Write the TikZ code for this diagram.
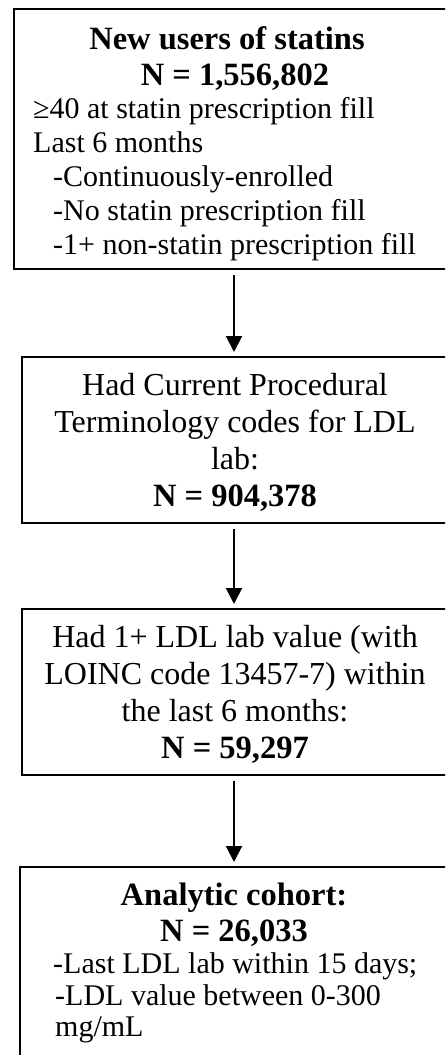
\documentclass[tikz,border=0pt]{standalone}
\usepackage{fontspec}
\setmainfont{Liberation Serif}
\usetikzlibrary{arrows.meta}
\tikzset{
  flowbox/.style={draw, line width=2pt, rectangle, inner sep=0pt, anchor=north west},
  flowarrow/.style={line width=2pt, -{Triangle[width=16pt,length=16pt]}, shorten <=5pt, shorten >=4pt},
  bigtxt/.style={inner sep=0pt, anchor=base, font=\fontsize{32}{36}\selectfont},
  bigbold/.style={inner sep=0pt, anchor=base, font=\fontsize{32.5}{36}\selectfont\bfseries},
  smalltxt/.style={inner sep=0pt, anchor=base west, font=\fontsize{30}{34}\selectfont},
}
\begin{document}
\begin{tikzpicture}[x=1pt,y=-1pt]
\useasboundingbox (0,0) rectangle (445,1055);
\clip (0,0) rectangle (445,1055);
% boxes (their right sides run past the cropped edge)
\node[flowbox, minimum width=480pt, minimum height=260pt] (box1) at (13,8) {};
\node[flowbox, minimum width=470pt, minimum height=166pt] (box2) at (21,356) {};
\node[flowbox, minimum width=470pt, minimum height=166pt] (box3) at (21,608) {};
\node[flowbox, minimum width=470pt, minimum height=260pt] (box4) at (19,866) {};
\coordinate (axis) at (234,0);
% box 1 text
\node[bigbold] (b1l1) at (227,49) {New users of statins};
\node[bigbold] (b1l2) at (235,85) {N = 1,556,802};
\node[smalltxt] (b1l3) at (33,118) {≥40 at statin prescription fill};
\node[smalltxt] (b1l4) at (33,152) {Last 6 months};
\node[smalltxt] (b1l5) at (53,186) {-Continuously-enrolled};
\node[smalltxt] (b1l6) at (53,220) {-No statin prescription fill};
\node[smalltxt] (b1l7) at (53,254) {-1+ non-statin prescription fill};
% box 2 text
\node[bigtxt] (b2l1) at (235,395) {Had Current Procedural};
\node[bigtxt] (b2l2) at (235,432) {Terminology codes for LDL};
\node[bigtxt] (b2l3) at (235,469) {lab:};
\node[bigbold] (b2l4) at (235,506) {N = 904,378};
% box 3 text
\node[bigtxt] (b3l1) at (235,647) {Had 1+ LDL lab value (with};
\node[bigtxt] (b3l2) at (235,684) {LOINC code 13457-7) within};
\node[bigtxt] (b3l3) at (235,721) {the last 6 months:};
\node[bigbold] (b3l4) at (235,758) {N = 59,297};
% box 4 text
\node[bigbold] (b4l1) at (234,905) {Analytic cohort:};
\node[bigbold] (b4l2) at (234,941) {N = 26,033};
\node[smalltxt] (b4l3) at (53,973) {-Last LDL lab within 15 days;};
\node[smalltxt] (b4l4) at (55,1005) {-LDL value between 0-300};
\node[smalltxt] (b4l5) at (55,1036) {mg/mL};
% arrows
\draw[flowarrow] (box1.south -| axis) -- (box2.north -| axis);
\draw[flowarrow] (box2.south -| axis) -- (box3.north -| axis);
\draw[flowarrow] (box3.south -| axis) -- (box4.north -| axis);
\end{tikzpicture}
\end{document}
